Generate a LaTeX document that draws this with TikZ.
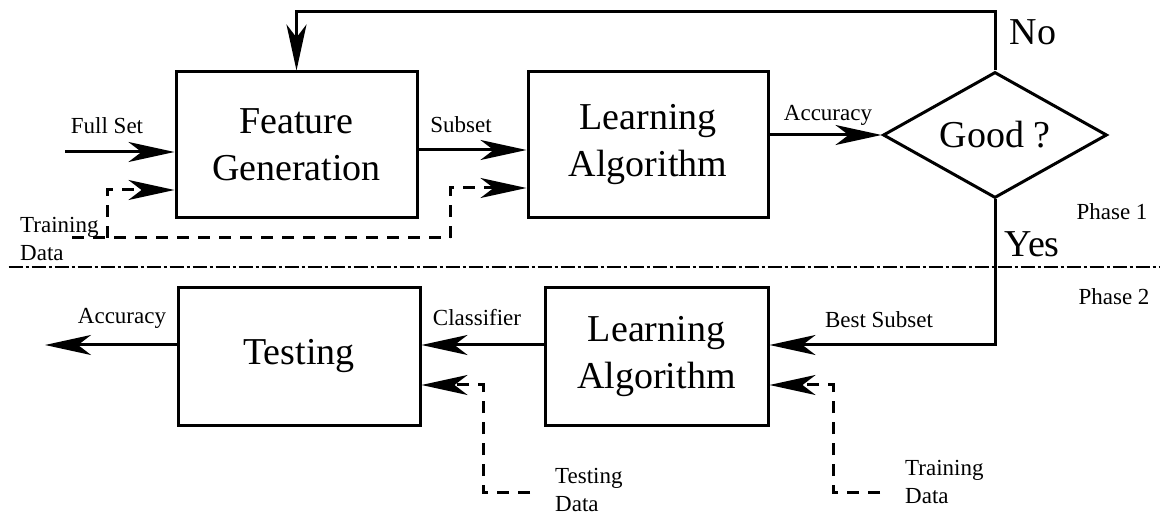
\documentclass[tikz,border=0pt]{standalone}
\usepackage{fontspec}
\setmainfont{Liberation Serif}
\usetikzlibrary{arrows.meta,shapes.geometric}

\begin{document}
\begin{tikzpicture}[x=1pt,y=-1pt,
  box/.style={draw, line width=3pt, inner sep=0pt, align=center,
    font=\fontsize{38}{47}\selectfont},
  decision/.style={draw, diamond, line width=3pt, inner sep=0pt,
    minimum width=224pt, minimum height=126pt, aspect=1.78,
    font=\fontsize{38}{47}\selectfont},
  lbl/.style={inner sep=0pt, font=\fontsize{23}{28}\selectfont},
  biglbl/.style={inner sep=0pt, font=\fontsize{38}{47}\selectfont},
  tip/.style={-{Stealth[length=46pt,width=20pt,inset=13pt]}},
  flow/.style={line width=3pt, tip},
  dataflow/.style={line width=3pt, dash pattern=on 12pt off 9pt, tip},
  datarun/.style={line width=3pt, dash pattern=on 12pt off 9pt},
  phaseline/.style={line width=2.5pt, dash pattern=on 14pt off 3pt on 3pt off 3pt}]
\useasboundingbox (0,0) rectangle (1167,518);

% ---- Phase 1 blocks
\node[box, minimum width=241pt, minimum height=146pt] (fg) at (296.5,145) {Feature\\Generation};
\node[box, minimum width=240pt, minimum height=146pt] (la1) at (648,145) {Learning\\Algorithm};
\node[decision] (good) at (995,135) {Good ?};

% ---- Phase 2 blocks
\node[box, minimum width=242pt, minimum height=137pt] (test) at (299,356.5) {Testing};
\node[box, minimum width=223pt, minimum height=137pt] (la2) at (656.5,356.5) {Learning\\Algorithm};

% ---- helper coordinates
\coordinate (fullin) at (65,152);
\coordinate (sub) at (0,150);
\coordinate (loop) at (0,12);
\coordinate (trA) at (72,238);
\coordinate (trB) at (107,238);
\coordinate (trC) at (450,238);
\coordinate (tr1) at (0,190);
\coordinate (tr2) at (0,188);
\coordinate (best) at (0,345);
\coordinate (accout) at (45,345);
\coordinate (tsIn) at (530,492);
\coordinate (tsCorner) at (483,492);
\coordinate (tnIn) at (880,492);
\coordinate (tnCorner) at (833,492);
\coordinate (dataY) at (0,385);

% ---- phase separator
\node[inner sep=0pt] (sepL) at (8,267) {};
\node[inner sep=0pt] (sepR) at (1160,267) {};
\draw[phaseline] (sepL) -- (sepR);

% ---- Phase 1 connectors
\draw[flow] (fullin) -- (fullin -| fg.west);
\draw[datarun] (trA) -- (trC);
\draw[dataflow] (trB) -- (trB |- tr1) -- (fg.west |- tr1);
\draw[dataflow] (trC) -- (trC |- tr2) -- (la1.west |- tr2);
\draw[flow] (fg.east |- sub) -- (la1.west |- sub);
\draw[flow] (la1.east |- good.west) -- (good.west);
\draw[flow] (good.north) -- (good.north |- loop) -| (fg.north);

% ---- Phase 2 connectors
\draw[flow] (good.south) -- (good.south |- best) -- (la2.east |- best);
\draw[flow] (la2.west |- best) -- (test.east |- best);
\draw[flow] (test.west |- best) -- (accout);
\draw[dataflow] (tsIn) -- (tsCorner) -- (tsCorner |- dataY) -- (test.east |- dataY);
\draw[dataflow] (tnIn) -- (tnCorner) -- (tnCorner |- dataY) -- (la2.east |- dataY);

% ---- labels
\node[lbl] (lfull) at (107,126) {Full Set};
\node[lbl, anchor=west, align=left] (ltrain1) at (20,239) {Training\\Data};
\node[lbl] (lsub) at (461,125) {Subset};
\node[lbl] (lacc1) at (828,115) {Accuracy};
\node[biglbl] (lno) at (1033,32) {No};
\node[biglbl] (lyes) at (1032,244) {Yes};
\node[lbl] (lph1) at (1112,212) {Phase 1};
\node[lbl] (lph2) at (1114,297) {Phase 2};
\node[lbl] (lacc2) at (122,318) {Accuracy};
\node[lbl] (lcls) at (477,318) {Classifier};
\node[lbl] (lbest) at (879,320) {Best Subset};
\node[lbl, anchor=west, align=left] (ltest) at (555,490) {Testing\\Data};
\node[lbl, anchor=west, align=left] (ltrain2) at (905,482) {Training\\Data};
\end{tikzpicture}
\end{document}
